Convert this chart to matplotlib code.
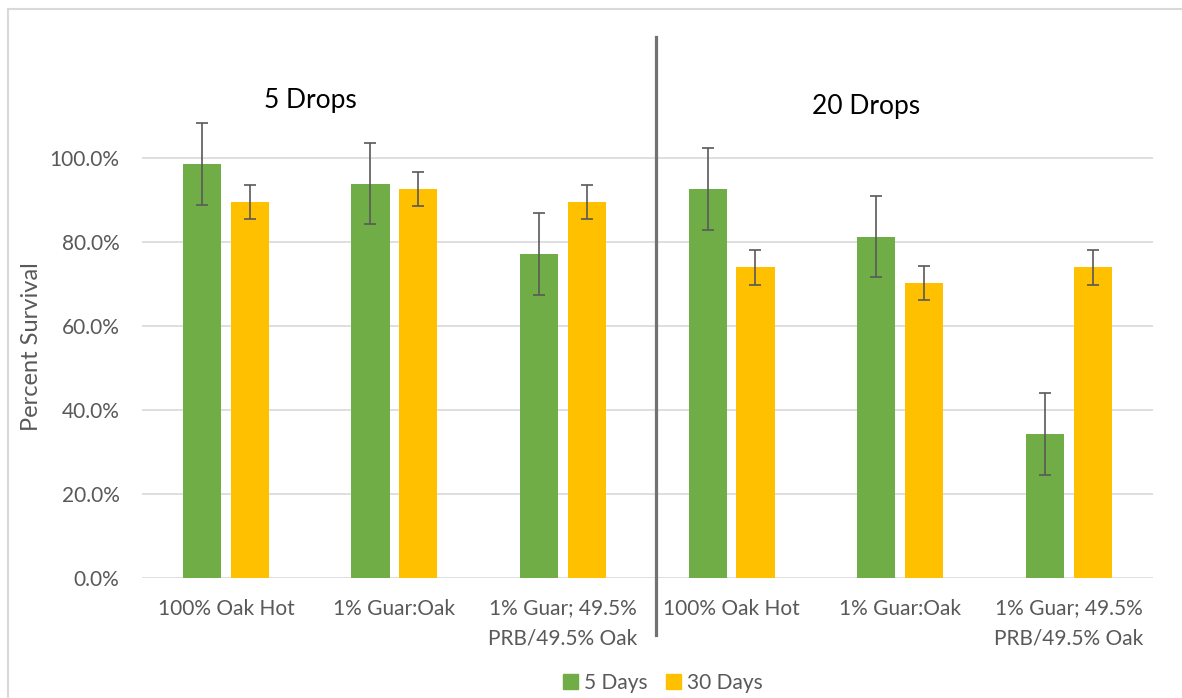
import numpy as np
import matplotlib
matplotlib.use("Agg")
import matplotlib.pyplot as plt
from matplotlib.patches import Rectangle, Patch
from matplotlib.ticker import FuncFormatter
from matplotlib.transforms import blended_transform_factory

plt.rcParams['font.family'] = ['Lato', 'DejaVu Sans']

# Data (percent survival)
categories = ["100% Oak Hot", "1% Guar:Oak", "1% Guar; 49.5%\nPRB/49.5% Oak",
              "100% Oak Hot", "1% Guar:Oak", "1% Guar; 49.5%\nPRB/49.5% Oak"]
days5 = [98.5, 93.8, 77.1, 92.5, 81.2, 34.2]
days5_err = [9.7, 9.7, 9.7, 9.7, 9.7, 9.7]
days30 = [89.5, 92.6, 89.5, 73.9, 70.1, 73.9]
days30_err = [4.1, 4.0, 4.1, 4.1, 4.1, 4.1]
series_names = ["5 Days", "30 Days"]
group_titles = ["5 Drops", "20 Drops"]

green = "#70AD47"
yellow = "#FFC000"
grey_txt = "#595959"

fig = plt.figure(figsize=(11.82, 6.98), dpi=100)
ax = fig.add_axes([0.1198, 0.17235, 0.8556, 0.6619])

x = np.arange(len(categories))
w = 0.226
off = 0.142
err_kw = dict(ecolor=grey_txt, elinewidth=1.2, capsize=4.5, capthick=1.2)
ax.bar(x - off, days5, w, yerr=days5_err, color=green, error_kw=err_kw, zorder=3)
ax.bar(x + off, days30, w, yerr=days30_err, color=yellow, error_kw=err_kw, zorder=3)

ax.set_xlim(-0.5, len(categories) - 0.5)
ax.set_ylim(0, 110)
ax.set_yticks(np.arange(0, 101, 20))
ax.yaxis.set_major_formatter(FuncFormatter(lambda v, p: f"{v:.1f}%"))
ax.set_xticks(x)
ax.set_xticklabels(categories, linespacing=1.6)
ax.tick_params(axis='both', length=0, labelsize=15, labelcolor=grey_txt)
ax.tick_params(axis='x', pad=15)
ax.tick_params(axis='y', pad=16)
ax.grid(axis='y', color="#D9D9D9", linewidth=1.2, zorder=0)
for s in ax.spines.values():
    s.set_visible(False)
ax.set_ylabel("Percent Survival", fontsize=17, color=grey_txt, labelpad=5)

# group titles
ax.text(0.504, 113.7, group_titles[0], ha='center', va='center', fontsize=19, color='black')
ax.text(3.798, 112.1, group_titles[1], ha='center', va='center', fontsize=19, color='black')

# separator line between groups
trans = blended_transform_factory(ax.transData, ax.transAxes)
ax.plot([2.551, 2.551], [-0.124, 1.17], color="#767171", linewidth=2.3,
        transform=trans, clip_on=False, zorder=4)

# legend
handles = [Patch(color=green, label=series_names[0]), Patch(color=yellow, label=series_names[1])]
fig.legend(handles=handles, loc='center', bbox_to_anchor=(663 / 1182, 1 - 683 / 698),
           ncol=2, frameon=False, fontsize=15, handlelength=0.7, handleheight=0.7,
           handletextpad=0.3, columnspacing=0.9, labelcolor=grey_txt)

# chart border (top and left visible)
fig.patches.append(Rectangle((7.7 / 1182, -0.1), 1.2, 1.1 - 9.3 / 698, fill=False,
                             edgecolor="#D9D9D9", linewidth=1.5, transform=fig.transFigure))

fig.savefig("out.png", dpi=100)
